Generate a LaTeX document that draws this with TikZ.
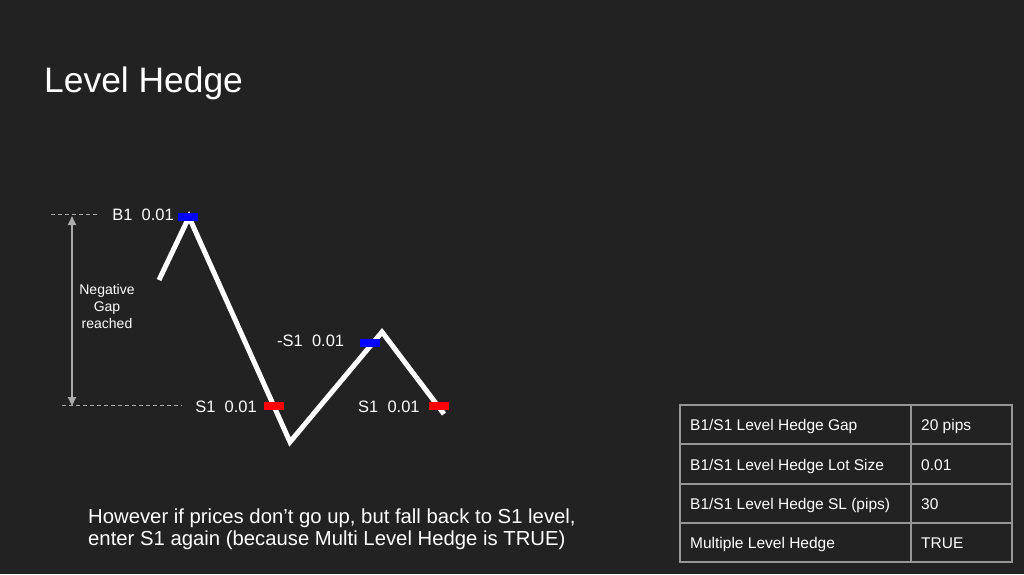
\documentclass[tikz,border=0pt]{standalone}
\usepackage{fontspec}
\setmainfont{Liberation Sans}
\usetikzlibrary{arrows.meta}
\definecolor{bg}{RGB}{34,34,34}
\definecolor{guide}{RGB}{170,170,170}
\definecolor{tbl}{RGB}{150,150,150}
\definecolor{mblue}{RGB}{0,0,255}
\definecolor{mred}{RGB}{255,0,0}
\tikzset{
  lbl/.style={text=white,inner sep=0pt,font=\fontsize{16.5}{19}\selectfont},
  marker/.style={minimum width=20pt,minimum height=8pt,inner sep=0pt,draw=none},
  guideline/.style={draw=guide,line width=0.9pt,dash pattern=on 4pt off 3pt},
  cell/.style={text=white,inner sep=0pt,anchor=base west,font=\fontsize{15.5}{18}\selectfont},
  price/.style={draw=white,line width=5pt,line join=miter}
}
\begin{document}
\begin{tikzpicture}[x=1pt,y=-1pt]
\fill[bg] (0,0) rectangle (1024,574);
\useasboundingbox (0,0) rectangle (1024,574);
% title
\node[text=white,inner sep=0pt,anchor=base west,font=\fontsize{35.4}{40}\selectfont] (title) at (44,92) {Level Hedge};
% guides
\coordinate (g1a) at (51,214); \coordinate (g1b) at (100,214);
\coordinate (g2a) at (62,405); \coordinate (g2b) at (182,405);
\draw[guideline] (g1a) -- (g1b);
\draw[guideline] (g2a) -- (g2b);
\coordinate (arT) at (72,216); \coordinate (arB) at (72,406);
\draw[draw=guide,line width=1.8pt,{Triangle[width=8pt,length=9pt]}-{Triangle[width=8pt,length=9pt]}] (arT) -- (arB);
\node[text=white,inner sep=0pt,align=center,anchor=base,font=\fontsize{14}{16.8}\selectfont] (gap) at (107,328) {Negative\\Gap\\reached};
% price path
\coordinate (p0) at (159,280);
\coordinate (p1) at (189,217);
\coordinate (p2) at (290,442);
\coordinate (p3) at (382,332);
\coordinate (p4) at (444,414);
\draw[price] (p0) -- (p1) -- (p2) -- (p3) -- (p4);
% markers
\node[marker,fill=mblue] (mb1) at (188,217) {};
\node[marker,fill=mred] (ms1) at (274,406) {};
\node[marker,fill=mblue] (mb2) at (370,343) {};
\node[marker,fill=mred] (ms2) at (439,406) {};
% labels
\node[lbl,anchor=base east] (lb1) at (174,220) {B1\ \ 0.01};
\node[lbl,anchor=base east] (ls1) at (257,412) {S1\ \ 0.01};
\node[lbl,anchor=base west] (lb2) at (277,346) {-S1\ \ 0.01};
\node[lbl,anchor=base west] (ls2) at (358,412) {S1\ \ 0.01};
% bottom text
\node[text=white,inner sep=0pt,anchor=base west,align=left,font=\fontsize{20.3}{22}\selectfont] (note) at (88,545) {However if prices don’t go up, but fall back to S1 level,\\enter S1 again (because Multi Level Hedge is TRUE)};
% table
\draw[draw=tbl,line width=1.5pt] (680,405) rectangle (1012,562);
\draw[draw=tbl,line width=1.5pt] (680,444) -- (1012,444);
\draw[draw=tbl,line width=1.5pt] (680,484) -- (1012,484);
\draw[draw=tbl,line width=1.5pt] (680,523) -- (1012,523);
\draw[draw=tbl,line width=1.5pt] (911,405) -- (911,562);
\node[cell] (c11) at (690,430) {B1/S1 Level Hedge Gap};
\node[cell] (c12) at (921,430) {20 pips};
\node[cell] (c21) at (690,470) {B1/S1 Level Hedge Lot Size};
\node[cell] (c22) at (921,470) {0.01};
\node[cell] (c31) at (690,509) {B1/S1 Level Hedge SL (pips)};
\node[cell] (c32) at (921,509) {30};
\node[cell] (c41) at (690,548) {Multiple Level Hedge};
\node[cell] (c42) at (921,548) {TRUE};
\end{tikzpicture}
\end{document}
